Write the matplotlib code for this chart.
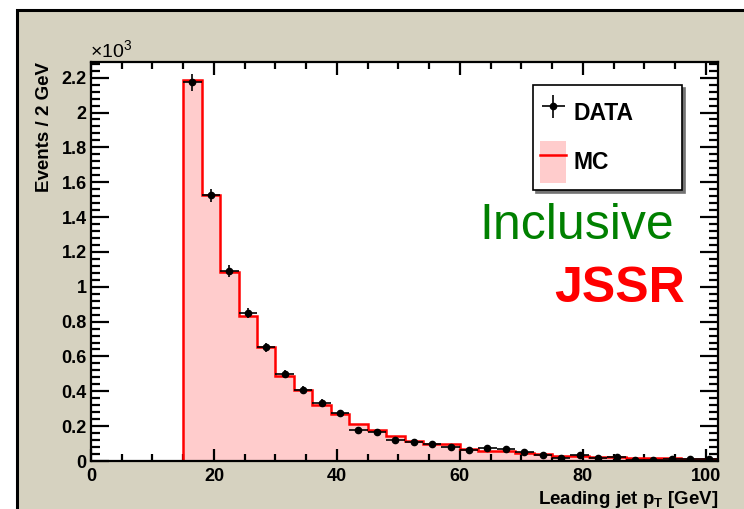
import numpy as np
import matplotlib
matplotlib.use("Agg")
import matplotlib.pyplot as plt
from matplotlib.patches import Rectangle, Patch
from matplotlib.lines import Line2D
from matplotlib.legend_handler import HandlerTuple
from matplotlib.ticker import MultipleLocator, FuncFormatter

plt.rcParams["font.family"] = ["Liberation Sans", "DejaVu Sans"]
plt.rcParams["mathtext.fontset"] = "custom"
plt.rcParams["mathtext.rm"] = "Liberation Sans"
plt.rcParams["mathtext.bf"] = "Liberation Sans:bold"

# leading jet pT histogram, 3 GeV bins starting at 15 GeV
bin_start = 15
bin_width = 3
mc_counts = [2185, 1528, 1084, 835, 657, 490, 408, 320, 268, 214, 178, 144, 115, 96, 95,
             69, 58, 59, 44, 38, 30, 30, 25, 23, 17, 17, 15, 13, 12]
data_counts = [2173, 1524, 1091, 848, 653, 500, 408, 335, 274, 176, 168, 121, 107, 98, 82,
               63, 72, 67, 50, 36, 19, 34, 19, 21, 6, 8, 13, 10, 11]

x_ticks = [0, 20, 40, 60, 80, 100]

mc = np.array(mc_counts)
data = np.array(data_counts)
edges = bin_start + bin_width * np.arange(len(mc) + 1)
centers = 0.5 * (edges[:-1] + edges[1:])

fig = plt.figure(figsize=(7.44, 5.09), dpi=100, facecolor="white")
# slide-style beige pad with black border
fig.add_artist(Rectangle((17 / 744, -0.1), 1.2, (509 - 10) / 509 + 0.1,
                         transform=fig.transFigure, facecolor="#d6d2c0",
                         edgecolor="black", lw=2.2, zorder=-10))

ax = fig.add_axes([91 / 744, 48 / 509, 627 / 744, 399 / 509])
ax.set_facecolor("white")

ax.stairs(mc, edges, baseline=0, fill=True, color="#ffcccc", zorder=1)
ax.stairs(mc, edges, baseline=0, color="#ff0000", lw=1.8, zorder=2)
eb = ax.errorbar(centers, data, yerr=np.sqrt(data), xerr=bin_width / 2, fmt="o",
                 color="black", ms=4.5, elinewidth=1.2, capsize=0, zorder=3)

ax.set_xlim(0, 102)
ax.set_ylim(0, 2290)

ax.set_xticks(x_ticks)
ax.xaxis.set_minor_locator(MultipleLocator(5))
ax.yaxis.set_major_locator(MultipleLocator(200))
ax.yaxis.set_minor_locator(MultipleLocator(40))
ax.yaxis.set_major_formatter(FuncFormatter(lambda v, p: "%g" % round(v / 1000, 1)))

ax.tick_params(which="both", direction="in", top=True, right=True, width=1.6,
               labelsize=13)
ax.tick_params(axis="y", which="major", length=13, pad=3)
ax.tick_params(axis="y", which="minor", length=6.5)
ax.tick_params(axis="x", which="major", length=9, pad=5)
ax.tick_params(axis="x", which="minor", length=5)
for lab in ax.get_xticklabels() + ax.get_yticklabels():
    lab.set_fontweight("bold")
for s in ax.spines.values():
    s.set_linewidth(1.6)

ax.text(-0.002, 1.0, r"$\times10^{3}$", transform=ax.transAxes, fontsize=14,
        ha="left", va="bottom")

ax.set_ylabel("Events / 2 GeV", fontsize=13.5, fontweight="bold", loc="top",
              labelpad=6)
ax.set_xlabel(r"Leading jet p$_\mathbf{T}$ [GeV]", fontsize=13.5, fontweight="bold",
              loc="right", labelpad=3)

mc_handle = (Patch(facecolor="#ffcccc", edgecolor="none"),
             Line2D([], [], color="#ff0000", lw=1.8))
leg = ax.legend([eb, mc_handle], ["DATA", "MC"],
                handler_map={tuple: HandlerTuple(ndivide=1, pad=0)},
                loc="upper left", bbox_to_anchor=(0.705, 0.687, 0.238, 0.255),
                mode="expand", borderaxespad=0, fancybox=False, edgecolor="black",
                framealpha=1, borderpad=0.3, labelspacing=0.3, handleheight=2.45,
                handlelength=1.15, handletextpad=0.3,
                prop={"weight": "bold", "size": 16.5},
                shadow={"color": "0.45", "alpha": 1})
leg.get_frame().set_linewidth(1.2)

ax.text(0.93, 0.59, "Inclusive", transform=ax.transAxes, color="#008000",
        fontsize=36, ha="right", va="center")
ax.text(0.948, 0.43, "JSSR", transform=ax.transAxes, color="#ff0000",
        fontsize=36, fontweight="bold", ha="right", va="center")

fig.savefig("out.png", dpi=100, facecolor=fig.get_facecolor())
